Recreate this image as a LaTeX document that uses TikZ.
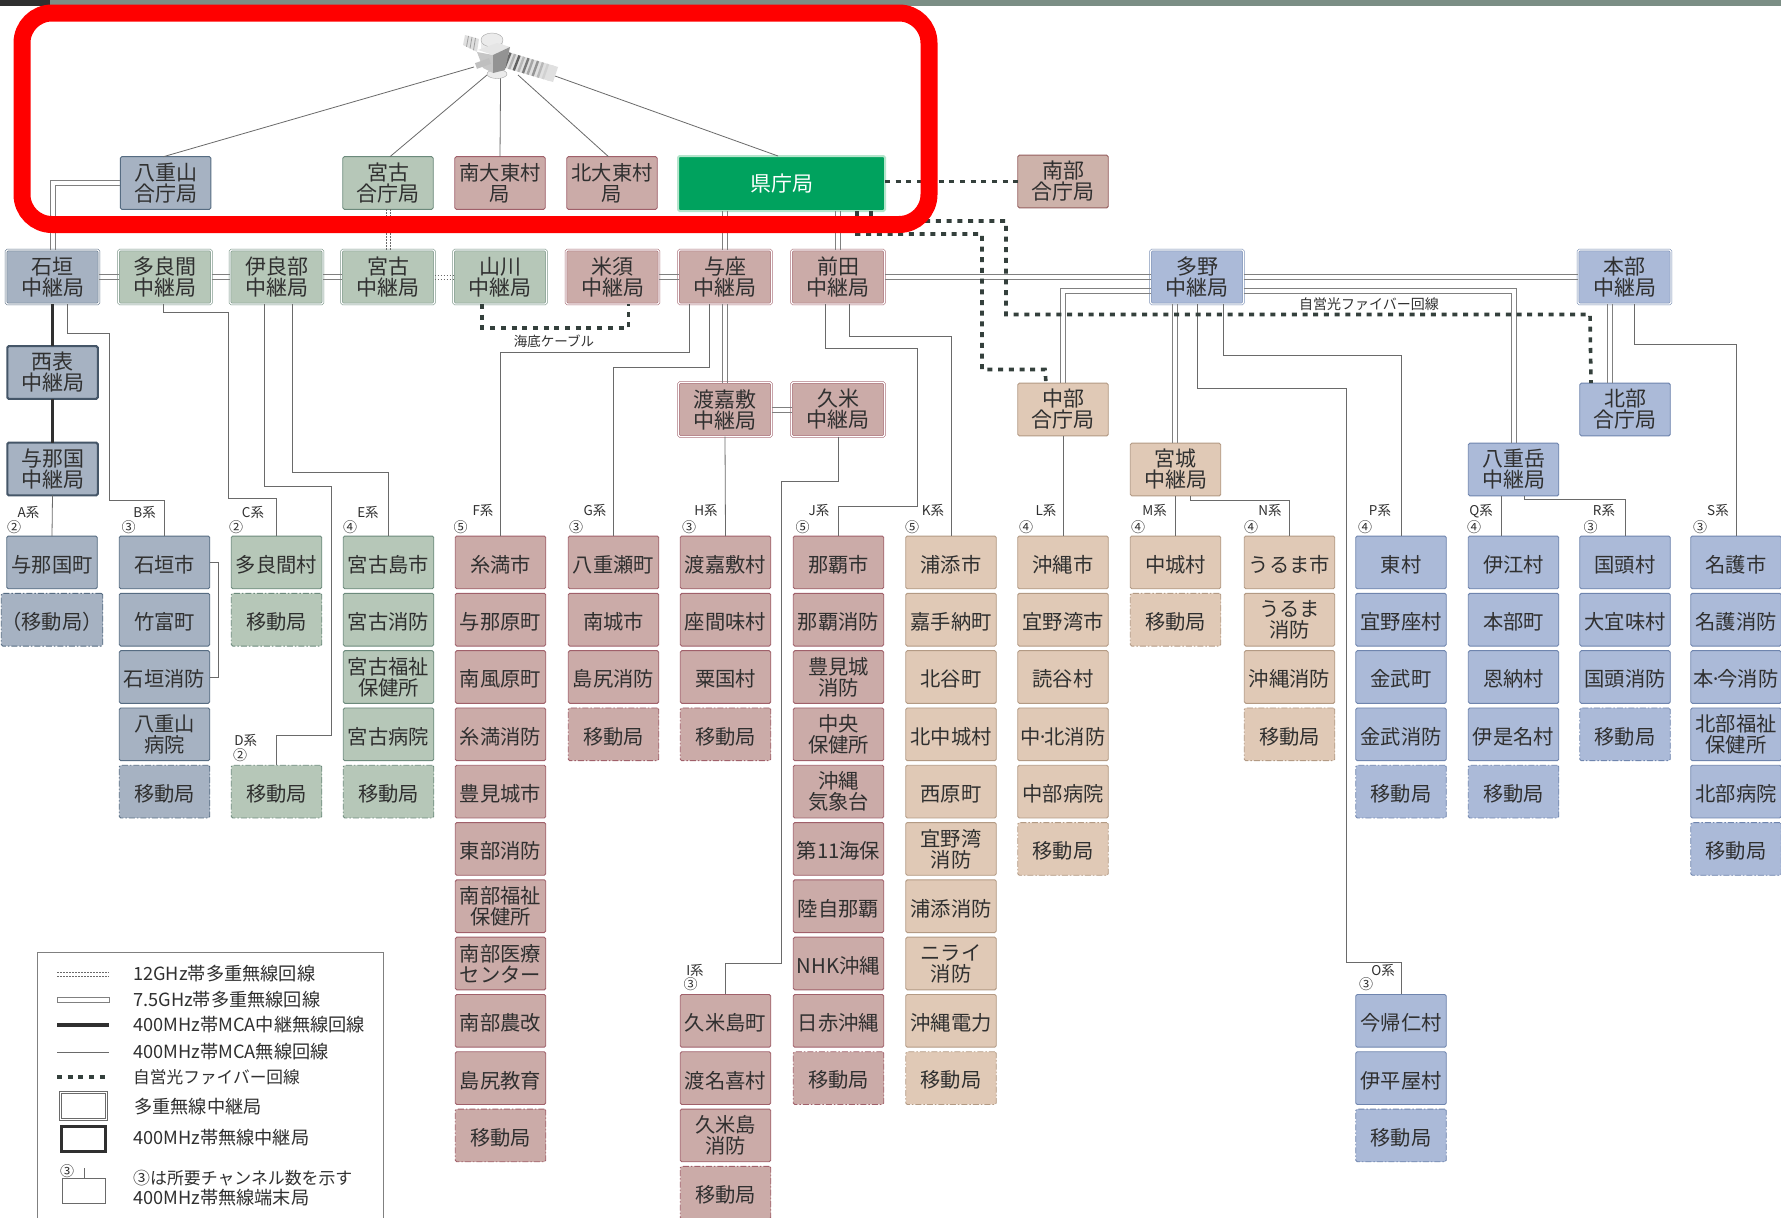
\documentclass[tikz,border=0pt]{standalone}
\usepackage{fontspec}
\usetikzlibrary{calc}
\setmainfont{Noto Sans CJK JP}
\definecolor{ink}{HTML}{303030}
\definecolor{lnk}{HTML}{6A6A6A}
\definecolor{bgF}{HTML}{A6B2C2}\definecolor{bgD}{HTML}{566C82}
\definecolor{grF}{HTML}{B6C7B8}\definecolor{grD}{HTML}{6C8A7C}
\definecolor{pkF}{HTML}{CBABA8}\definecolor{pkD}{HTML}{A0606A}
\definecolor{tnF}{HTML}{E0C9B6}\definecolor{tnD}{HTML}{B39A84}
\definecolor{blF}{HTML}{ABBAD8}\definecolor{blD}{HTML}{6F85AE}
\definecolor{brF}{HTML}{CDB2AA}\definecolor{brD}{HTML}{96605F}
\definecolor{fiber}{HTML}{34403C}
\definecolor{strip}{HTML}{7B8E85}
\definecolor{kenF}{HTML}{00A25E}
\definecolor{kenD}{HTML}{B5E5CC}
\tikzset{
  bx/.style={rectangle,rounded corners=1.5pt,inner sep=0pt,outer sep=0pt,align=center,text=ink,
    font=\fontsize{20.3}{21}\selectfont,minimum width=90.5pt,minimum height=52.7pt,line width=.9pt},
  bg/.style={fill=bgF,draw=bgD},
  gr/.style={fill=grF,draw=grD},
  pk/.style={fill=pkF,draw=pkD},
  tn/.style={fill=tnF,draw=tnD},
  bl/.style={fill=blF,draw=blD},
  br/.style={fill=brF,draw=brD},
  mob/.style={dash pattern=on 6pt off 2pt on 1.5pt off 2pt},
  hd/.style={bx,font=\fontsize{21}{21}\selectfont,execute at begin node={\rule{0pt}{20.5pt}}},
  relay/.style={hd,minimum width=93pt,minimum height=54pt,double=white,double distance=1.2pt,line width=.6pt},
  mca/.style={hd,fill=bgF,draw=bgD!80!black,line width=2pt},
  thinl/.style={draw=lnk,line width=.8pt},
  mwl/.style={draw=lnk!85,line width=.9pt},
  mwf/.style={draw=lnk,line width=.8pt,dash pattern=on 1.5pt off 1.5pt},
  mcal/.style={draw=ink,line width=3.6pt},
  fib/.style={draw=fiber,line width=3.6pt,dash pattern=on 5pt off 5.7pt},
  sys/.style={inner sep=0pt,text=ink,font=\fontsize{13.5}{14}\selectfont},
  cnum/.style={inner sep=0pt,text=ink,font=\fontsize{14}{14}\selectfont},
  leg/.style={anchor=west,inner sep=0pt,text=ink,font=\fontsize{18.2}{19}\selectfont},
  capt/.style={inner sep=0pt,text=ink,font=\fontsize{13.5}{14}\selectfont},
}
\makeatletter
\newcommand\lift[1]{\in@{\\}{#1}\ifin@ #1\else\rule{0pt}{21.5pt}#1\fi}
\makeatother
\newcommand\TB[5]{\node[bx,#4] (#1) at (#2,{562.4+57.3*#3}) {\lift{#5}};}
\newcommand\MB[5]{\node[bx,#4,mob] (#1) at (#2,{562.4+57.3*#3}) {\lift{#5}};}
\newcommand\SY[8]{\node[sys] (#1) at (#2,#3) {#4}; \node[cnum] (#1c) at (#5,#6) {#7};}
\newcommand\mdot{\kern-4pt·\kern-4pt}
% pair of thin lines: horizontal run between two anchors, vertical run between two anchors
\newcommand\HH[2]{\foreach \d in {-2.5,2.5}{\draw[mwl] ([yshift=\d pt]#1) -- ([yshift=\d pt]#1 -| #2);}}
\newcommand\VV[2]{\foreach \d in {-2.5,2.5}{\draw[mwl] ([xshift=\d pt]#1) -- ([xshift=\d pt]#2 |- #1) -- ([xshift=\d pt]#2);}}
\begin{document}
\begin{tikzpicture}[x=1pt,y=-1pt]
\clip (0,0) rectangle (1781,1218);
\fill[white] (0,0) rectangle (1781,1218);
\fill[strip] (0,0) rectangle (1781,6);
\fill[ink] (0,0) rectangle (50,6);

% head stations
\node[hd,bg] (yae) at (165.6,183) {八重山\\合庁局};
\node[hd,gr] (mkg) at (388,183) {宮古\\合庁局};
\node[hd,pk,font=\fontsize{20.3}{21}\selectfont] (minami) at (500,183) {南大東村\\局};
\node[hd,pk,font=\fontsize{20.3}{21}\selectfont] (kita) at (612,183) {北大東村\\局};
\node[bx,draw=kenD,fill=kenF,line width=2pt,text=white,font=\fontsize{21}{21}\selectfont,minimum width=207pt,minimum height=55pt] (ken) at (781.5,183.5) {県庁局};
\node[hd,br] (nanbu) at (1063,181.5) {南部\\合庁局};

% relay row
\node[relay,bg] (ish) at (52.5,277) {石垣\\中継局};
\node[relay,gr] (tar) at (165,277) {多良間\\中継局};
\node[relay,gr] (ira) at (276.5,277) {伊良部\\中継局};
\node[relay,gr] (mry) at (388,277) {宮古\\中継局};
\node[relay,gr] (yam) at (500,277) {山川\\中継局};
\node[relay,pk] (yon) at (612.5,277) {米須\\中継局};
\node[relay,pk] (yoz) at (725,277) {与座\\中継局};
\node[relay,pk] (mae) at (838,277) {前田\\中継局};
\node[relay,bl] (tano) at (1197,277) {多野\\中継局};
\node[relay,bl] (hon) at (1624.5,277) {本部\\中継局};
\node[mca] (iri) at (52.5,372.5) {西表\\中継局};
\node[mca] (yog) at (52.5,469) {与那国\\中継局};
\node[relay,pk] (tok) at (725,409.5) {渡嘉敷\\中継局};
\node[relay,pk] (kum) at (838,409.5) {久米\\中継局};
\node[hd,tn] (chu) at (1063,409.5) {中部\\合庁局};
\node[hd,bl] (hok) at (1625,409.5) {北部\\合庁局};
\node[hd,tn] (miy) at (1175.5,469.5) {宮城\\中継局};
\node[hd,bl] (yad) at (1513.5,469.5) {八重岳\\中継局};

% terminals
\TB{a0}{52}{0}{bg}{与那国町}\MB{a1}{52}{1}{bg}{（移動局）}
\TB{b0}{164.5}{0}{bg}{石垣市}\TB{b1}{164.5}{1}{bg}{竹富町}\TB{b2}{164.5}{2}{bg}{石垣消防}\TB{b3}{164.5}{3}{bg}{八重山\\病院}\MB{b4}{164.5}{4}{bg}{移動局}
\TB{c0}{276.5}{0}{gr}{多良間村}\MB{c1}{276.5}{1}{gr}{移動局}
\MB{d0}{276.5}{4}{gr}{移動局}
\TB{e0}{388.5}{0}{gr}{宮古島市}\TB{e1}{388.5}{1}{gr}{宮古消防}\TB{e2}{388.5}{2}{gr}{宮古福祉\\保健所}\TB{e3}{388.5}{3}{gr}{宮古病院}\MB{e4}{388.5}{4}{gr}{移動局}
\TB{f0}{500.5}{0}{pk}{糸満市}\TB{f1}{500.5}{1}{pk}{与那原町}\TB{f2}{500.5}{2}{pk}{南風原町}\TB{f3}{500.5}{3}{pk}{糸満消防}\TB{f4}{500.5}{4}{pk}{豊見城市}\TB{f5}{500.5}{5}{pk}{東部消防}\TB{f6}{500.5}{6}{pk}{南部福祉\\保健所}\TB{f7}{500.5}{7}{pk}{南部医療\\センター}\TB{f8}{500.5}{8}{pk}{南部農改}\TB{f9}{500.5}{9}{pk}{島尻教育}\MB{f10}{500.5}{10}{pk}{移動局}
\TB{g0}{613.5}{0}{pk}{八重瀬町}\TB{g1}{613.5}{1}{pk}{南城市}\TB{g2}{613.5}{2}{pk}{島尻消防}\MB{g3}{613.5}{3}{pk}{移動局}
\TB{h0}{725.5}{0}{pk}{渡嘉敷村}\TB{h1}{725.5}{1}{pk}{座間味村}\TB{h2}{725.5}{2}{pk}{粟国村}\MB{h3}{725.5}{3}{pk}{移動局}
\TB{i0}{725.5}{8}{pk}{久米島町}\TB{i1}{725.5}{9}{pk}{渡名喜村}\TB{i2}{725.5}{10}{pk}{久米島\\消防}\MB{i3}{725.5}{11}{pk}{移動局}
\TB{j0}{838.5}{0}{pk}{那覇市}\TB{j1}{838.5}{1}{pk}{那覇消防}\TB{j2}{838.5}{2}{pk}{豊見城\\消防}\TB{j3}{838.5}{3}{pk}{中央\\保健所}\TB{j4}{838.5}{4}{pk}{沖縄\\気象台}\TB{j5}{838.5}{5}{pk}{第11海保}\TB{j6}{838.5}{6}{pk}{陸自那覇}\TB{j7}{838.5}{7}{pk}{NHK沖縄}\TB{j8}{838.5}{8}{pk}{日赤沖縄}\MB{j9}{838.5}{9}{pk}{移動局}
\TB{k0}{951}{0}{tn}{浦添市}\TB{k1}{951}{1}{tn}{嘉手納町}\TB{k2}{951}{2}{tn}{北谷町}\TB{k3}{951}{3}{tn}{北中城村}\TB{k4}{951}{4}{tn}{西原町}\TB{k5}{951}{5}{tn}{宜野湾\\消防}\TB{k6}{951}{6}{tn}{浦添消防}\TB{k7}{951}{7}{tn}{ニライ\\消防}\TB{k8}{951}{8}{tn}{沖縄電力}\MB{k9}{951}{9}{tn}{移動局}
\TB{l0}{1063}{0}{tn}{沖縄市}\TB{l1}{1063}{1}{tn}{宜野湾市}\TB{l2}{1063}{2}{tn}{読谷村}\TB{l3}{1063}{3}{tn}{中\mdot 北消防}\TB{l4}{1063}{4}{tn}{中部病院}\MB{l5}{1063}{5}{tn}{移動局}
\TB{m0}{1175.5}{0}{tn}{中城村}\MB{m1}{1175.5}{1}{tn}{移動局}
\TB{n0}{1289.5}{0}{tn}{うるま市}\TB{n1}{1289.5}{1}{tn}{うるま\\消防}\TB{n2}{1289.5}{2}{tn}{沖縄消防}\MB{n3}{1289.5}{3}{tn}{移動局}
\TB{p0}{1401}{0}{bl}{東村}\TB{p1}{1401}{1}{bl}{宜野座村}\TB{p2}{1401}{2}{bl}{金武町}\TB{p3}{1401}{3}{bl}{金武消防}\MB{p4}{1401}{4}{bl}{移動局}
\TB{o0}{1401}{8}{bl}{今帰仁村}\TB{o1}{1401}{9}{bl}{伊平屋村}\MB{o2}{1401}{10}{bl}{移動局}
\TB{q0}{1513.5}{0}{bl}{伊江村}\TB{q1}{1513.5}{1}{bl}{本部町}\TB{q2}{1513.5}{2}{bl}{恩納村}\TB{q3}{1513.5}{3}{bl}{伊是名村}\MB{q4}{1513.5}{4}{bl}{移動局}
\TB{r0}{1625}{0}{bl}{国頭村}\TB{r1}{1625}{1}{bl}{大宜味村}\TB{r2}{1625}{2}{bl}{国頭消防}\MB{r3}{1625}{3}{bl}{移動局}
\TB{s0}{1736}{0}{bl}{名護市}\TB{s1}{1736}{1}{bl}{名護消防}\TB{s2}{1736}{2}{bl}{本\mdot 今消防}\TB{s3}{1736}{3}{bl}{北部福祉\\保健所}\TB{s4}{1736}{4}{bl}{北部病院}\MB{s5}{1736}{5}{bl}{移動局}

% system labels
\SY{sa}{28.6}{512.7}{A系}{14}{526.7}{②}{}
\SY{sb}{144.6}{512.7}{B系}{128.6}{526.7}{③}{}
\SY{sc}{253}{512.7}{C系}{236}{526.7}{②}{}
\SY{sd}{245.7}{740}{D系}{240}{755}{②}{}
\SY{se}{368}{512.7}{E系}{350}{526.7}{④}{}
\SY{sf}{483}{510.7}{F系}{460.7}{527}{⑤}{}
\SY{sg}{595}{510.7}{G系}{576}{527}{③}{}
\SY{sh}{706}{510.7}{H系}{689}{527}{③}{}
\SY{si}{695}{970}{I系}{690.6}{984}{③}{}
\SY{sj}{819}{510.7}{J系}{802.5}{527}{⑤}{}
\SY{sk}{933}{510.7}{K系}{912}{527}{⑤}{}
\SY{sl}{1046}{510.7}{L系}{1026}{527}{④}{}
\SY{sm}{1154.6}{510.7}{M系}{1138}{527}{④}{}
\SY{sn}{1270}{510.7}{N系}{1251}{527}{④}{}
\SY{so}{1383}{970}{O系}{1366}{984}{③}{}
\SY{sp}{1380}{510.7}{P系}{1365}{527}{④}{}
\SY{sq}{1481}{510.7}{Q系}{1474}{527}{④}{}
\SY{sr}{1604}{510.7}{R系}{1590.5}{527}{③}{}
\SY{ss}{1718}{510.7}{S系}{1700}{527}{③}{}
\node[capt] (umi) at (554,341) {海底ケーブル};
\node[capt,font=\fontsize{14}{14}\selectfont] (jie) at (1369,304) {自営光ファイバー回線};

% satellite links
\coordinate (s1) at (474,67);\coordinate (s2) at (487,75);\coordinate (s3) at (500.6,77);\coordinate (s4) at (518,75);\coordinate (s5) at (555,76);
\draw[thinl] (s1) -- ([xshift=-2pt]yae.north);
\draw[thinl] (s2) -- ([xshift=2pt]mkg.north);
\draw[thinl] (s3) -- (minami.north);
\draw[thinl] (s4) -- ([xshift=-3.5pt]kita.north);
\draw[thinl] (s5) -- ([xshift=-3.5pt]ken.north);

% satellite
\fill[gray!25] (465,35) -- (479,39) -- (477,52) -- (463,45) -- cycle;
\foreach \t in {0.25,0.5,0.75}{\draw[gray!75,line width=.8pt] ($(465,35)!\t!(479,39)$) -- ($(463,45)!\t!(477,52)$);}
\fill[black!12] (508,52) -- (558,67) -- (553,82) -- (502,67) -- cycle;
\foreach \t/\c in {0.05/60,0.14/30,0.23/62,0.32/28,0.41/52,0.50/35,0.60/42,0.70/28,0.80/18,0.90/12}{\draw[black!\c,line width=2.4pt] ($(508,52)!\t!(558,67)$) -- ($(502,67)!\t!(553,82)$);}
\fill[black!8,draw=gray!70,line width=.4pt] (497,74) ellipse (10 and 4.5);
\fill[black!8] (481,40) rectangle (503,50);
\fill[black!8,draw=gray!70,line width=.4pt] (492,40) ellipse (11 and 7);
\fill[gray!20] (478,50) -- (497,43) -- (510,47) -- (493,55) -- cycle;
\fill[gray!45] (477,52) -- (493,55) -- (493,73) -- (483,68) -- cycle;
\fill[gray!85] (493,55) -- (510,47) -- (505,70) -- (493,73) -- cycle;
\draw[gray!50,line width=6pt] (476,66) -- (490,61);

% 7.5 GHz
\foreach \d in {-2.5,2.5}{
  \draw[mwl] ([yshift=\d pt]yae.west) -| ([xshift=-\d pt]ish.north);
  \draw[mwl] ([yshift=-14pt+\d pt]tano.west) -| ([xshift=-\d pt]chu.north);
  \draw[mwl] ([yshift=-14pt+\d pt]tano.east) -| ([xshift=\d pt]yad.north);
  \draw[mwl] ([xshift=-22pt+\d pt]tano.south) -- ([xshift=-22pt+\d pt]tano.south |- miy.north);
  \draw[mwl] ([xshift=-15pt+\d pt]hon.south) -- ([xshift=-15pt+\d pt]hon.south |- hok.north);
  \draw[mwl] ([xshift=\d pt]ken.south -| yoz.north) -- ([xshift=\d pt]yoz.north);
  \draw[mwl] ([xshift=\d pt]ken.south -| mae.north) -- ([xshift=\d pt]mae.north);
  \draw[mwl] ([xshift=\d pt]yoz.south) -- ([xshift=\d pt]tok.north);
  \draw[mwl] ([yshift=\d pt]ish.east) -- ([yshift=\d pt]tar.west);
  \draw[mwl] ([yshift=\d pt]tar.east) -- ([yshift=\d pt]ira.west);
  \draw[mwl] ([yshift=\d pt]ira.east) -- ([yshift=\d pt]mry.west);
  \draw[mwl] ([yshift=\d pt]yon.east) -- ([yshift=\d pt]yoz.west);
  \draw[mwl] ([yshift=\d pt]mae.east) -- ([yshift=\d pt]tano.west);
  \draw[mwl] ([yshift=\d pt]tano.east) -- ([yshift=\d pt]tano.east -| hon.west);
  \draw[mwl] ([yshift=\d pt]tok.east) -- ([yshift=\d pt]kum.west);
}

% 12 GHz
\foreach \d in {-2,2}{
  \draw[mwf] ([xshift=\d pt]mkg.south) -- ([xshift=\d pt]mry.north);
  \draw[mwf] ([yshift=\d pt]mry.east) -- ([yshift=\d pt]yam.west);
}

% 400 MHz relay
\draw[mcal] (ish.south) -- (iri.north);
\draw[mcal] (iri.south) -- (yog.north);

% 400 MHz thin
\draw[thinl] (yog.south) -- (a0.north);
\draw[thinl] ([xshift=14.5pt]ish.south) -- ++(0,29.5) -- ++(42,0) -- ++(0,167) -| (b0.north);
\draw[thinl] ([xshift=-1.5pt]tar.south) -- ++(0,8) -- ++(65,0) -- ++(0,186.5) -| (c0.north);
\draw[thinl] ([xshift=-12.5pt]ira.south) -- ++(0,182) -- ++(67,0) -- ++(0,249.7) -| (d0.north);
\draw[thinl] ([xshift=16.3pt]ira.south) -- ++(0,168) -| (e0.north);
\draw[thinl] ([xshift=-36pt]yoz.south) -- ++(0,48) -| (f0.north);
\draw[thinl] ([xshift=-16pt]yoz.south) -- ++(0,63.5) -| (g0.north);
\draw[thinl] (tok.south) -- (h0.north);
\draw[thinl] (kum.south) -- ++(0,45) -- ++(-56.5,0) -- ++(0,481.5) -| (i0.north);
\draw[thinl] ([xshift=-12.5pt]mae.south) -- ++(0,44.5) -- ++(91.5,0) -- ++(0,158) -| (j0.north);
\draw[thinl] ([xshift=11.6pt]mae.south) -- ++(0,32) -| (k0.north);
\draw[thinl] (chu.south) -- (l0.north);
\draw[thinl] (miy.south) -- (m0.north);
\draw[thinl] ([xshift=14.5pt]miy.south) -- ++(0,5) -| (n0.north);
\draw[thinl] (tano.south) -- ++(0,84) -- ++(149,0) -- ++(0,574.5) -| (o0.north);
\draw[thinl] ([xshift=26pt]tano.south) -- ++(0,51) -| (p0.north);
\draw[thinl] ([xshift=-12pt]yad.south) -- ([xshift=-12pt]yad.south |- q0.north);
\draw[thinl] ([xshift=10.5pt]yad.south) -- ++(0,4) -| (r0.north);
\draw[thinl] ([xshift=9.5pt]hon.south) -- ++(0,40) -| (s0.north);
\draw[thinl] (b0.east) -- ++(9,0) |- (b2.east);

% fibre
\draw[fib] (ken.east |- nanbu.west) -- (nanbu.west);
\draw[fib] ([xshift=-14pt]ken.south east) -- ++(0,10) -- ++(135,0) -- ++(0,93.5) -- ++(584,0) -- ([xshift=-34pt]hok.north);
\draw[fib] ([xshift=-28pt]ken.south east) -- ++(0,23) -- ++(125,0) -- ++(0,135.5) -- ++(63,0) -- ([xshift=-17pt]chu.north);
\draw[fib] ([xshift=-18pt]yam.south) -- ++(0,24) -| ([xshift=16pt]yon.south);

% legend
\draw[draw=gray,line width=.9pt] (37,1240) -- (37,952) -- (383,952) -- (383,1240);
\draw[mwf] (57,972) -- (109,972);\draw[mwf] (57,976) -- (109,976);
\draw[mwl] (57,997.5) rectangle (109,1002.5);
\draw[mcal] (57,1025) -- (109,1025);
\draw[thinl] (57,1052) -- (109,1052);
\draw[fib] (57,1077) -- (107,1077);
\node[leg] (l1) at (133,974) {12GHz帯多重無線回線};
\node[leg] (l2) at (133,1000) {7.5GHz帯多重無線回線};
\node[leg] (l3) at (133,1025) {400MHz帯MCA中継無線回線};
\node[leg] (l4) at (133,1052) {400MHz帯MCA無線回線};
\node[leg,font=\fontsize{16.7}{17}\selectfont] (l5) at (133,1077) {自営光ファイバー回線};
\node[leg] (l6) at (134,1107) {多重無線中継局};
\node[leg] (l7) at (133,1138) {400MHz帯無線中継局};
\node[leg,font=\fontsize{16.9}{17}\selectfont] (l8) at (133,1178) {③は所要チャンネル数を示す};
\node[leg] (l9) at (133,1198) {400MHz帯無線端末局};
\node[rectangle,draw=lnk,line width=.7pt,double=white,double distance=1.2pt,minimum width=46pt,minimum height=27pt,inner sep=0pt] (k1) at (83.5,1106) {};
\node[rectangle,draw=ink,line width=2.2pt,minimum width=44pt,minimum height=25pt,inner sep=0pt] (k2) at (83.5,1139) {};
\node[rectangle,draw=lnk,line width=.7pt,minimum width=43pt,minimum height=25pt,inner sep=0pt] (k3) at (83.5,1191) {};
\coordinate (k3t) at (84,1168);
\draw[thinl] (k3t) -- (k3.north -| k3t);
\node[cnum] (k3c) at (67,1171) {③};

% red frame
\draw[red,line width=17pt,rounded corners=30pt] (22,13) rectangle (929,224.5);
\end{tikzpicture}
\end{document}
